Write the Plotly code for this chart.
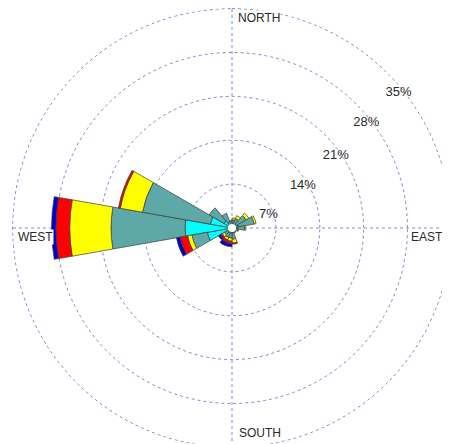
import plotly.graph_objects as go

# ---- data (percent frequency per direction sector and speed class) ----
directions = [10, 30, 50, 70, 90, 110, 130, 150, 170, 190, 210, 230, 250, 270, 290, 310, 330, 350]
speed_classes = ["class 1", "class 2", "class 3", "class 4", "class 5"]
class1 = [0.5, 0.6, 0.8, 1.0, 0.8, 0.5, 0.3, 0.4, 0.8, 0.8, 0.8, 0.8, 4.0, 7.5, 3.5, 1.5, 1.0, 0.5]
class2 = [0.8, 1.0, 1.8, 2.6, 1.2, 0.5, 0.4, 0.4, 1.0, 0.8, 0.8, 0.6, 2.5, 11.8, 11.0, 2.7, 1.5, 0.6]
class3 = [0.3, 0.5, 0.5, 0.3, 0.2, 0.1, 0.1, 0.1, 0.6, 0.5, 0.4, 0.4, 0.7, 6.6, 3.6, 0.0, 0.0, 0.1]
class4 = [0.0, 0.0, 0.0, 0.0, 0.0, 0.0, 0.0, 0.0, 0.2, 0.4, 0.4, 0.3, 1.2, 2.2, 0.3, 0.0, 0.0, 0.0]
class5 = [0.0, 0.0, 0.0, 0.0, 0.0, 0.0, 0.0, 0.0, 0.0, 0.5, 0.6, 0.4, 0.6, 0.7, 0.0, 0.0, 0.0, 0.0]

ring_values = [7, 14, 21, 28, 35]
ring_labels = ["7%", "14%", "21%", "28%", "35%"]
compass_labels = ["NORTH", "EAST", "SOUTH", "WEST"]

# ---- style ----
SECTOR_WIDTH = 20
colors = ["#00FFFF", "#5FA8A8", "#FFFF00", "#FF0000", "#0000C8"]
GRID = "rgb(135,135,200)"
TEXT = "#2a2a2a"
FONT = "Liberation Sans, Arial, sans-serif"
label_r_offset = -0.8
label_theta = [70, 59, 55, 52, 51]
R_MAX = 35.1

fig = go.Figure()
for name, vals, col in zip(speed_classes, [class1, class2, class3, class4, class5], colors):
    fig.add_trace(go.Barpolar(
        r=vals, theta=directions, width=[SECTOR_WIDTH] * len(directions),
        name=name, marker_color=col,
        marker_line_color="#3c3c3c", marker_line_width=0.7,
        hoverinfo="skip",
    ))

# outer ring (gridline at the last ring value, drawn as a dotted polar line)
ring_theta = list(range(0, 361, 2))
fig.add_trace(go.Scatterpolar(
    r=[ring_values[-1]] * len(ring_theta), theta=ring_theta, mode="lines",
    line=dict(color=GRID, width=1, dash="dot"),
    hoverinfo="skip", showlegend=False,
))

# white centre disc
fig.add_trace(go.Scatterpolar(
    r=[0], theta=[0], mode="markers",
    marker=dict(size=8, color="white", line=dict(width=0)),
    hoverinfo="skip", showlegend=False,
))

# ring percentage labels
fig.add_trace(go.Scatterpolar(
    r=[v + label_r_offset for v in ring_values], theta=label_theta,
    mode="text", text=ring_labels, textposition="middle center",
    textfont=dict(family=FONT, size=13, color=TEXT),
    hoverinfo="skip", showlegend=False,
))

# the page body adds an 8px offset; compensate in figure geometry
OFF = 8
W, H = 450, 444
ML, MR, MT, MB = 4, 6, 0, 4
PW, PH = W - ML - MR, H - MT - MB


def px(x):
    return (x - OFF - ML) / PW


def py(y):
    return 1 - (y - OFF - MT) / PH


label_pos = [(237, 18), (410, 237), (238, 433), (17, 237)]
annotations = []
for txt, (x, y) in zip(compass_labels, label_pos):
    annotations.append(dict(
        text=txt, x=px(x), y=py(y), xref="paper", yref="paper",
        xanchor="left", yanchor="middle", showarrow=False,
        bgcolor="white", borderpad=0,
        font=dict(family=FONT, size=12, color=TEXT),
    ))

fig.update_layout(
    width=W, height=H,
    margin=dict(l=ML, r=MR, t=MT, b=MB, pad=0),
    paper_bgcolor="white", plot_bgcolor="white",
    showlegend=False,
    annotations=annotations,
    polar=dict(
        bgcolor="white",
        barmode="stack", bargap=0,
        domain=dict(x=[0, 1], y=[0, 1]),
        radialaxis=dict(
            range=[0, R_MAX], tickvals=ring_values[:-1], showticklabels=False,
            ticks="", showline=False, showgrid=True,
            gridcolor=GRID, griddash="dot", gridwidth=1,
        ),
        angularaxis=dict(
            direction="clockwise", rotation=90,
            tickvals=[0, 90, 180, 270], showticklabels=False, ticks="",
            showline=False, showgrid=True,
            gridcolor=GRID, griddash="dot", gridwidth=1,
        ),
    ),
)

fig.write_html("out.html")
